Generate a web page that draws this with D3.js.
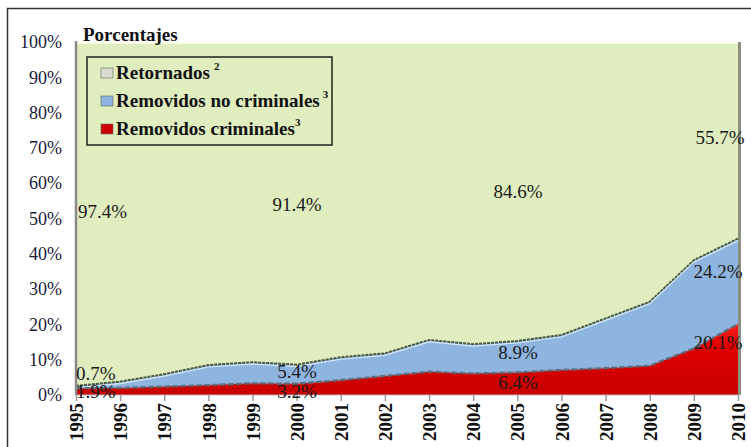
<!DOCTYPE html>
<html>
<head>
<meta charset="utf-8">
<script src="https://cdn.jsdelivr.net/npm/d3@7"></script>
<style>
  body { margin: 0; background: #fff; }
  text { font-family: "Liberation Serif", "Times New Roman", serif; }
</style>
</head>
<body>
<div id="chart"></div>
<script>
// Years on the x axis
const years = [1995, 1996, 1997, 1998, 1999, 2000, 2001, 2002, 2003, 2004, 2005, 2006, 2007, 2008, 2009, 2010];
// Shares (%) per year
const criminales   = [1.9, 2.0, 2.4, 2.8, 3.3, 3.2, 4.2, 5.4, 6.6, 6.1, 6.4, 7.1, 7.6, 8.3, 13.2, 20.1];
const noCriminales = [0.7, 1.8, 3.5, 5.7, 6.0, 5.4, 6.5, 6.4, 9.0, 8.3, 8.9, 9.9, 14.1, 18.1, 25.0, 24.2];
const retornados   = [97.4, 96.2, 94.1, 91.5, 90.7, 91.4, 89.3, 88.2, 84.4, 85.6, 84.6, 83.0, 78.3, 73.6, 61.8, 55.7];
const yTicks = [0, 10, 20, 30, 40, 50, 60, 70, 80, 90, 100];

// Value labels as printed on the chart
const valueLabels = [
  {year: 1995, key: "retornados", text: "97.4%"},
  {year: 2000, key: "retornados", text: "91.4%"},
  {year: 2005, key: "retornados", text: "84.6%"},
  {year: 2010, key: "retornados", text: "55.7%"},
  {year: 1995, key: "noCriminales", text: "0.7%"},
  {year: 2000, key: "noCriminales", text: "5.4%"},
  {year: 2005, key: "noCriminales", text: "8.9%"},
  {year: 2010, key: "noCriminales", text: "24.2%"},
  {year: 1995, key: "criminales", text: "1.9%"},
  {year: 2000, key: "criminales", text: "3.2%"},
  {year: 2005, key: "criminales", text: "6.4%"},
  {year: 2010, key: "criminales", text: "20.1%"}
];

const width = 751, height = 447;
const margin = {top: 42, right: 13, bottom: 52, left: 76};
const plotW = width - margin.left - margin.right;
const plotH = height - margin.top - margin.bottom;

const svg = d3.select("#chart").append("svg")
    .attr("width", width)
    .attr("height", height);

// Outer frame
svg.append("rect")
    .attr("x", 7.5).attr("y", 8.5)
    .attr("width", width).attr("height", height)
    .attr("fill", "none").attr("stroke", "#333").attr("stroke-width", 1.5);

const defs = svg.append("defs");
const redGrad = defs.append("linearGradient").attr("id", "redGrad")
    .attr("x1", 0).attr("x2", 0).attr("y1", 0).attr("y2", 1);
redGrad.append("stop").attr("offset", "0%").attr("stop-color", "#ff2020");
redGrad.append("stop").attr("offset", "30%").attr("stop-color", "#e00000");
redGrad.append("stop").attr("offset", "100%").attr("stop-color", "#c80000");

const g = svg.append("g").attr("transform", `translate(${margin.left},${margin.top})`);

const x = d3.scaleLinear().domain([1995, 2010]).range([0, plotW]);
const y = d3.scaleLinear().domain([0, 100]).range([plotH, 0]);

// Stack the three series, criminales at the bottom
const table = years.map((yr, i) => ({
  year: yr, criminales: criminales[i], noCriminales: noCriminales[i], retornados: retornados[i]
}));
const keys = ["criminales", "noCriminales", "retornados"];
const stacked = d3.stack().keys(keys)(table);
const fills = {criminales: "url(#redGrad)", noCriminales: "#8eb4e0", retornados: "#dfedbf"};

const area = d3.area()
    .x(d => x(d.data.year))
    .y0(d => y(d[0]))
    .y1(d => y(Math.min(d[1], 100)));

// Plot shadow on the right
g.append("rect")
    .attr("x", plotW).attr("y", 0).attr("width", 3).attr("height", plotH)
    .attr("fill", "#8a8f80");

// Draw from top layer down so edges sit on top
const layers = g.append("g");
stacked.slice().reverse().forEach(s => {
  layers.append("path")
      .datum(s)
      .attr("d", area)
      .attr("fill", fills[s.key]);
});

// Highlight along top of green
g.append("line")
    .attr("x1", 0).attr("x2", plotW).attr("y1", 1).attr("y2", 1)
    .attr("stroke", "#fbfde8").attr("stroke-width", 2);

// Edge lines between the layers
const edge = d3.line()
    .x(d => x(d.data.year))
    .y(d => y(d[1]));
g.append("path").datum(stacked[1])
    .attr("d", edge).attr("fill", "none")
    .attr("stroke", "#4a5a3a").attr("stroke-width", 2).attr("stroke-dasharray", "3,1");
g.append("path").datum(stacked[1])
    .attr("d", edge).attr("fill", "none")
    .attr("stroke", "#d8e8f6").attr("stroke-width", 1.2)
    .attr("transform", "translate(0,2)");
g.append("path").datum(stacked[0])
    .attr("d", edge).attr("fill", "none")
    .attr("stroke", "#5f6b78").attr("stroke-width", 2.2).attr("stroke-dasharray", "6,2");

// Left axis line
g.append("line")
    .attr("x1", 0).attr("x2", 0).attr("y1", -1).attr("y2", plotH)
    .attr("stroke", "#8a8a8a").attr("stroke-width", 2.5);
// Bottom axis line
g.append("line")
    .attr("x1", 0).attr("x2", plotW + 1).attr("y1", plotH).attr("y2", plotH)
    .attr("stroke", "#bbb").attr("stroke-width", 1);

// Y axis labels
const yAxis = g.append("g")
    .call(d3.axisLeft(y).tickValues(yTicks).tickFormat(d => d + "%").tickSize(0).tickPadding(14));
yAxis.select(".domain").remove();
yAxis.selectAll("text")
    .attr("font-size", 18)
    .attr("fill", "#1a1a3a");

// X axis with rotated year labels
const xAxis = g.append("g")
    .attr("transform", `translate(0,${plotH})`)
    .call(d3.axisBottom(x).tickValues(years).tickFormat(d3.format("d")).tickSize(6));
xAxis.select(".domain").remove();
xAxis.selectAll("line").attr("stroke", "#999").attr("stroke-width", 1.5);
xAxis.selectAll("text")
    .attr("font-size", 19)
    .attr("font-weight", "bold")
    .attr("fill", "#111")
    .attr("transform", "rotate(-90)")
    .attr("text-anchor", "end")
    .attr("x", -8)
    .attr("y", 0)
    .attr("dy", "0.35em");

// Value label positions (page pixels), keyed by series and year
const labelPos = {
  "retornados-1995": [78, 218], "retornados-2000": [297, 211], "retornados-2005": [518, 198], "retornados-2010": [720, 144],
  "noCriminales-1995": [76, 380], "noCriminales-2000": [297, 378], "noCriminales-2005": [518, 359], "noCriminales-2010": [718, 278],
  "criminales-1995": [76, 398], "criminales-2000": [297, 398], "criminales-2005": [518, 389], "criminales-2010": [718, 349]
};
g.append("g").selectAll("text")
    .data(valueLabels)
    .join("text")
    .attr("x", d => labelPos[d.key + "-" + d.year][0] - margin.left)
    .attr("y", d => labelPos[d.key + "-" + d.year][1] - margin.top)
    .attr("text-anchor", d => d.year === 1995 ? "start" : "middle")
    .attr("font-size", 19)
    .attr("fill", "#1a1a1a")
    .text(d => d.text);

// Title
svg.append("text")
    .attr("x", 83).attr("y", 41)
    .attr("font-size", 19).attr("font-weight", "bold")
    .attr("fill", "#111")
    .text("Porcentajes");

// Legend
const legend = svg.append("g").attr("transform", "translate(87,57)");
legend.append("rect")
    .attr("width", 245).attr("height", 88)
    .attr("fill", "none").attr("stroke", "#222").attr("stroke-width", 1.5);
const legendItems = [
  {label: "Retornados", sup: "2", color: "#d9dccf", gap: 4},
  {label: "Removidos no criminales", sup: "3", color: "#8eb4e0", gap: 3},
  {label: "Removidos criminales", sup: "3", color: "#cc0000", gap: 0}
];
const li = legend.selectAll("g.item").data(legendItems).join("g")
    .attr("class", "item")
    .attr("transform", (d, i) => `translate(14,${16 + i * 28})`);
li.append("rect")
    .attr("x", 0).attr("y", -5).attr("width", 12).attr("height", 10)
    .attr("fill", d => d.color).attr("stroke", "#666").attr("stroke-width", 0.6);
const lt = li.append("text")
    .attr("x", 15).attr("y", 6)
    .attr("font-size", 19).attr("font-weight", "bold").attr("fill", "#111");
lt.append("tspan").text(d => d.label);
lt.append("tspan")
    .attr("dx", d => d.gap)
    .attr("dy", -9)
    .attr("font-size", 11)
    .text(d => d.sup);
</script>
</body>
</html>
